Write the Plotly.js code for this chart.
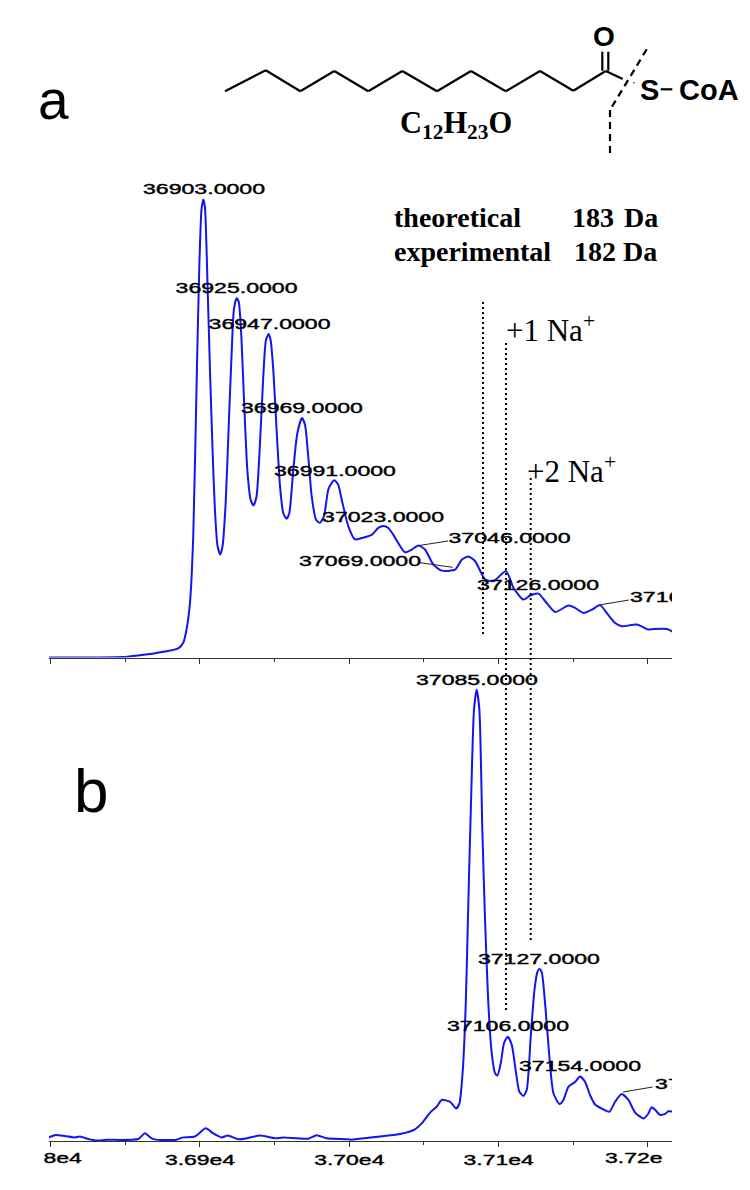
<!DOCTYPE html>
<html><head><meta charset="utf-8">
<script src="https://cdn.plot.ly/plotly-3.0.1.min.js"></script>
<style>html,body{margin:0;padding:0;background:#fff}</style></head>
<body><div id="chart" style="width:750px;height:1190px"></div>
<script>
const topMass=[36799.1,36848.6,36859.8,36871,36885.5,36888.8,36891,36893.3,36895.5,36897.7,36899.5,36901,36902.2,36903.3,36905.1,36906.7,36908.5,36910,36911.8,36913.6,36915.1,36917.2,36919.4,36921.2,36922.7,36924.5,36925.9,36927.7,36929.4,36931.7,36933.9,36935.9,36937.9,36940.2,36942.4,36944.2,36946,36947.3,36949.1,36951.3,36953.6,36955.8,36958,36959.8,36962.5,36965.2,36968.3,36970.3,36972.5,36974.8,36977.7,36980.3,36983,36985.9,36988.2,36989.9,36992.6,36994.9,36999.3,37003.8,37008.3,37015,37019.4,37022.8,37026.1,37029.5,37037.3,37041.8,37046.3,37050.7,37056.3,37061.9,37070.8,37075.3,37079.8,37084.2,37090.9,37096.5,37105,37109.9,37116.6,37121.1,37126.7,37131.1,37137.8,37146.7,37151.2,37156.8,37162.4,37168,37172.4,37178,37182.5,37192.5,37200.3,37203.7,37212.6,37216.6];
const topIntensity=[0,0.1,0.5,1,2,3.2,6.1,11.9,26.4,59,84.4,97.4,99.7,98.1,80.7,62.6,44.5,32.2,24.2,22.4,24.2,33.6,51.7,66.2,75.7,78.2,77.5,69.9,56.8,40.9,34.4,33.1,35.1,46.7,61.2,69.1,70.4,69.1,62.6,49.6,37.3,31.4,30.2,31.4,40.9,48.8,52.1,50.7,43.8,35.1,30,29.3,30.7,36.5,38,38.6,37.6,34.4,28.6,25.7,26,26.7,28.2,28.6,28.2,26.7,22.9,23.5,24.4,23.5,20.2,18.9,19.1,21.3,22,21,17,16.6,18.8,15.2,12.6,13.5,13.9,12.3,9.9,11.3,10.8,9.7,10.4,11.4,9.7,7.5,6.8,7.2,6.1,6.2,6.2,5.6];
const bottomMass=[36798.8,36802.8,36809.5,36816.2,36819.6,36825.2,36830.8,36837.5,36858.7,36863.1,36867.6,36872.1,36884.3,36888.8,36896.6,36903.8,36908.9,36914.5,36918.5,36925.6,36931.2,36940.2,36950.2,36955.8,36972.5,36978.1,36984.8,36997.1,37001.6,37012.7,37026.1,37034,37044,37048.5,37054.1,37058.5,37061.9,37067.5,37071.5,37073.7,37076,37078,37079.7,37081.5,37083.5,37085.3,37087.1,37089.1,37090.9,37093.1,37095.4,37097.6,37099.2,37101.4,37103.6,37106.1,37108.8,37111.4,37113.9,37116.6,37118.8,37121.5,37124,37126,37127.3,37128.8,37131.3,37133.8,37136.7,37140.7,37143.4,37146.7,37151.2,37154.5,37157.9,37161.2,37164.6,37169.1,37174.2,37178,37182.4,37186.9,37191.4,37197,37200.3,37202.5,37204.8,37208.1,37211.5,37213.7,37216.6];
const bottomIntensity=[0.8,1.3,1.1,0.8,1,0.45,0.1,0.25,0.45,1.7,0.6,0.25,0.3,0.8,1,2.8,1.7,0.8,1.2,0.4,0.6,1.2,0.6,0.75,0.5,1.3,0.6,0.4,0.3,0.7,1.2,1.55,2.6,3.9,6.3,7.6,9.1,8.7,7.2,8.3,15.7,30.5,52.7,74.9,95.6,100,95.6,68.9,49,30.5,19.4,15,14.5,17.2,21.7,23.1,21.3,15.7,10.9,10,11.3,23.1,33.5,37.5,38.1,37.5,29.8,19.4,10.6,8.2,9.1,12,13.1,14.3,13.1,10.2,8.1,7.2,6.5,8.7,10.4,9.1,6.3,5,6.1,7.5,6.9,5.8,6,6.6,6.5];
const topLabels=["36903.0000","36925.0000","36947.0000","36969.0000","36991.0000","37023.0000","37069.0000","37046.0000","37126.0000"];
const topLabelMass=[36902.7,36924.5,36946.6,36968.3,36990.4,37022.6,37007.2,37107.3,37126.4];
const topLabelY=[101.7,80.2,72.4,54.1,40.4,30.4,20.8,25.8,15.6];
const bottomLabels=["37085.0000","37127.0000","37106.0000","37154.0000"];
const bottomLabelMass=[37085.5,37127,37106.3,37154.5];
const bottomLabelY=[102,40.1,25.3,16.4];
const tickValues=[36900,37000,37100];
const tickLabels=["3.69e4","3.70e4","3.71e4"];

const W=750,H=1190;
const px=x=>x/W, py=y=>1-y/H;
const xRange=[36798.9,37216.1];
const blue='#1414f0';
const numFont={family:'"Liberation Sans",Arial,sans-serif',size:15,color:'#000'};

function seg(x0,y0,x1,y1,w,dash,color){
  return {type:'line',xref:'paper',yref:'paper',x0:px(x0),y0:py(y0),x1:px(x1),y1:py(y1),
    line:{color:color||'#000',width:w,dash:dash||'solid'}};
}
const chain=[[225,91.3],[265.7,70.3],[300.3,91.3],[334.3,71],[368.3,91.3],[402.3,71],[437,91.3],[471,71],[505.7,91.3],[540,71],[573.3,90.7],[605.7,71],[622.7,79]];
const shapes=[];
for(let i=0;i<chain.length-1;i++) shapes.push(seg(chain[i][0],chain[i][1],chain[i+1][0],chain[i+1][1],2.2));
shapes.push(seg(602.3,70.7,602.3,51.7,2.2));
shapes.push(seg(608.3,70.7,608.3,51.7,2.2));
shapes.push(seg(646.7,49.3,610,110,2.2,'7px,5px'));
shapes.push(seg(610,110,610,156.7,2.2,'7px,5px'));
shapes.push(seg(660.7,89.3,672.3,89.3,2.2));
shapes.push(seg(633.5,82.7,634.5,82.7,1.5));
shapes.push(seg(483,302,483,637,2,'2px,3px'));
shapes.push(seg(506,343,506,1010,2,'2px,3px'));
shapes.push(seg(530.7,478,530.7,943,2,'2px,3px'));
shapes.push(seg(418,545.7,448,541,1,null,'#222'));
shapes.push(seg(420,562.7,452.7,567.3,1,null,'#222'));
shapes.push(seg(599,605,629,600,1,null,'#222'));
shapes.push(seg(623,1092,652.7,1087,1,null,'#222'));

function ann(text,x,y,size,family,weight,xanchor){
  return {text:text,xref:'paper',yref:'paper',x:px(x),y:py(y),showarrow:false,xanchor:xanchor||'left',yanchor:'middle',
    font:{family:family,size:size,color:'#000',weight:weight||400}};
}
const serif='"Liberation Serif","Times New Roman",serif', sans='"Liberation Sans",Arial,sans-serif';
const annotations=[
  ann('a',53,100,55,sans,400,'center'),
  ann('b',91,790,62,sans,400,'center'),
  ann('O',604.3,36.5,28,sans,700,'center'),
  ann('S',638,90.5,29,sans,700,'left'),
  ann('CoA',677,90.5,29,sans,700,'left'),
  ann('C<sub>12</sub>H<sub>23</sub>O',398,125,30.5,serif,700,'left'),
  ann('theoretical',392,217,28,serif,700,'left'),
  ann('183',570,217,28,serif,700,'left'),
  ann('Da',622,217,28,serif,700,'left'),
  ann('experimental',392,251,28,serif,700,'left'),
  ann('182',572,251,28,serif,700,'left'),
  ann('Da',621,251,28,serif,700,'left'),
  ann('+1 Na<sup>+</sup>',504,328,31,serif,400,'left'),
  ann('+2 Na<sup>+</sup>',525,470,31,serif,400,'left'),
  ann('8e4',48,1157,15,sans,400,'left'),
  ann('3.72e',613,1157,15,sans,400,'left')
];

const textTrace=(t,x,y,xa,ya,pos)=>({x:x,y:y,text:t,mode:'text',type:'scatter',xaxis:xa,yaxis:ya,textposition:pos||'middle center',
  textfont:numFont,cliponaxis:true,hoverinfo:'skip',showlegend:false});

const data=[
  {x:topMass,y:topIntensity,mode:'lines',type:'scatter',xaxis:'x',yaxis:'y',line:{color:blue,width:2,shape:'spline',smoothing:0.6},hoverinfo:'skip'},
  {x:bottomMass,y:bottomIntensity,mode:'lines',type:'scatter',xaxis:'x2',yaxis:'y2',line:{color:blue,width:2,shape:'spline',smoothing:0.6},hoverinfo:'skip'},
  textTrace(topLabels,topLabelMass,topLabelY,'x','y'),
  textTrace(bottomLabels,bottomLabelMass,bottomLabelY,'x2','y2'),
  textTrace(["37168.0000"],[37188],[12.9],'x','y','middle right'),
  textTrace(["37187.0000"],[37204.8],[12.4],'x2','y2','middle right')
];
const axisBase={range:xRange,domain:[49/W,672/W],showgrid:false,zeroline:false,showline:true,linecolor:'#333',linewidth:1,
  ticks:'outside',ticklen:5,tickwidth:1,tickcolor:'#333',tickmode:'array',tickvals:[36800,36900,37000,37100,37200],
  minor:{ticks:'outside',ticklen:3,tickwidth:1,tickcolor:'#333',tickmode:'linear',tick0:36800,dtick:50,showgrid:false}};
const layout={width:W,height:H,margin:{l:0,r:0,t:0,b:0},paper_bgcolor:'#fff',plot_bgcolor:'rgba(0,0,0,0)',showlegend:false,hovermode:false,
  xaxis:Object.assign({},axisBase,{anchor:'y',showticklabels:false}),
  yaxis:{domain:[1-657.5/H,1-170/H],range:[0,106.1],visible:false,anchor:'x'},
  xaxis2:Object.assign({},axisBase,{anchor:'y2',tickvals:tickValues.concat([36800,37200]),ticktext:tickLabels.concat(['','']),tickfont:numFont}),
  yaxis2:{domain:[1-1141/H,1-670/H],range:[0,104.4],visible:false,anchor:'x2'},
  shapes:shapes,annotations:annotations};

Plotly.newPlot('chart',data,layout,{displayModeBar:false,staticPlot:true}).then(()=>{
  const root=document.getElementById('chart');
  const stretch=(el,f)=>{const n=el.getComputedTextLength();if(n>0){el.setAttribute('textLength',(n*f).toFixed(1));el.setAttribute('lengthAdjust','spacingAndGlyphs');}
    el.style.stroke='#000';el.style.strokeWidth='0.4px';};
  root.querySelectorAll('.textpoint text').forEach(el=>stretch(el,1.54));
  root.querySelectorAll('.xaxislayer-above text').forEach(el=>stretch(el,1.53));
  root.querySelectorAll('.annotation-text').forEach(el=>{
    const t=el.textContent;
    if(t==='8e4'||t==='3.72e') stretch(el,1.53);
  });
  root.querySelectorAll('svg text').forEach(el=>{if(!el.textContent.trim()) el.remove();});
});
</script></body></html>
